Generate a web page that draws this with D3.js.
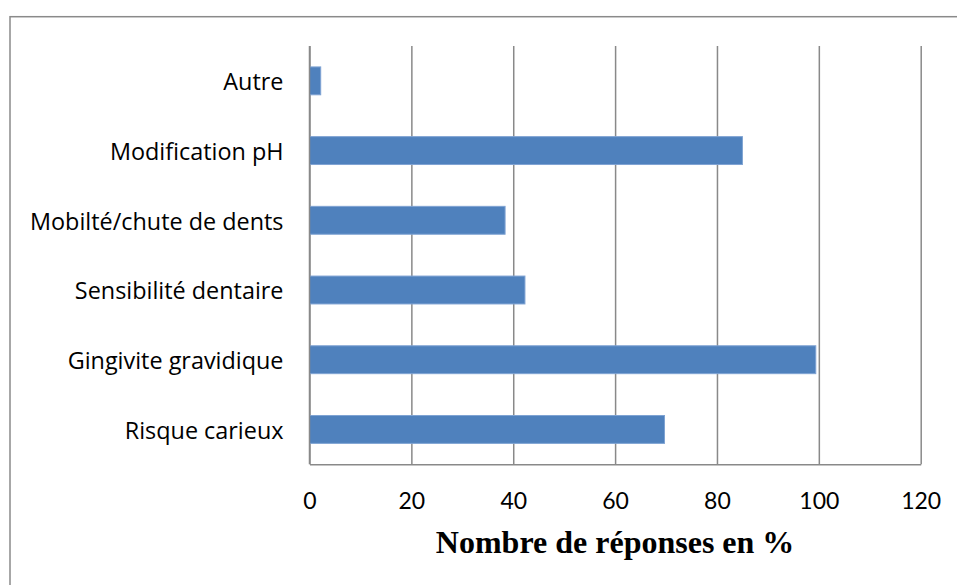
<!DOCTYPE html>
<html>
<head>
<meta charset="utf-8">
<script src="https://cdn.jsdelivr.net/npm/d3@7"></script>
<style>
  html, body { margin: 0; padding: 0; background: #fff; }
  svg { display: block; }
</style>
</head>
<body>
<svg id="chart" width="957" height="585"></svg>
<script>
const categories = ["Autre", "Modification pH", "Mobilté/chute de dents", "Sensibilité dentaire", "Gingivite gravidique", "Risque carieux"];
const values = [2.2, 85.0, 38.4, 42.3, 99.4, 69.7];
const xTicks = [0, 20, 40, 60, 80, 100, 120];
const axisTitle = "Nombre de réponses en %";

const svg = d3.select("#chart");
const margin = { left: 309.5, right: 957 - 920.7, top: 46, bottom: 585 - 464.3 };
const W = 957, H = 585;

// outer frame
svg.append("rect")
  .attr("x", 10).attr("y", 16.7)
  .attr("width", 960).attr("height", 600)
  .attr("fill", "none").attr("stroke", "#8a8a8a").attr("stroke-width", 1.5);

const x = d3.scaleLinear().domain([0, 120]).range([margin.left, W - margin.right]);
const y = d3.scaleBand().domain(categories).range([margin.top, H - margin.bottom]).paddingInner(0.6).paddingOuter(0.3);

// gridlines
svg.append("g")
  .attr("transform", `translate(0,${H - margin.bottom})`)
  .call(d3.axisBottom(x).tickValues(xTicks).tickSize(-(H - margin.bottom - margin.top)).tickFormat(""))
  .call(g => g.select(".domain").remove())
  .call(g => g.selectAll("line").attr("stroke", "#898989").attr("stroke-width", 1.5));

// bars
svg.append("g").selectAll("rect")
  .data(categories)
  .join("rect")
  .attr("x", x(0))
  .attr("y", d => y(d))
  .attr("width", (d, i) => x(values[i]) - x(0))
  .attr("height", y.bandwidth())
  .attr("fill", "#4f81bd")
  .attr("stroke", "#7fa3d3")
  .attr("stroke-width", 1);

// left axis line
svg.append("line")
  .attr("x1", x(0)).attr("x2", x(0))
  .attr("y1", margin.top).attr("y2", H - margin.bottom)
  .attr("stroke", "#898989").attr("stroke-width", 1.5);

// bottom axis line + labels
const xAxis = svg.append("g")
  .attr("transform", `translate(0,${H - margin.bottom})`)
  .call(d3.axisBottom(x).tickValues(xTicks).tickSize(0).tickPadding(28).tickFormat(d3.format("d")));
xAxis.select(".domain").attr("stroke", "#898989").attr("stroke-width", 1.5);
xAxis.selectAll("text")
  .attr("font-family", "Lato, 'Open Sans', sans-serif")
  .attr("font-size", 23)
  .attr("fill", "#000");

// category labels
const yAxis = svg.append("g")
  .attr("transform", `translate(${x(0)},0)`)
  .call(d3.axisLeft(y).tickSize(0).tickPadding(26));
yAxis.select(".domain").remove();
yAxis.selectAll("text")
  .attr("font-family", "'Open Sans', sans-serif")
  .attr("font-size", 23.4)
  .attr("dy", "0.4em")
  .attr("fill", "#000");

// axis title
svg.append("text")
  .attr("x", (x(0) + x(120)) / 2)
  .attr("y", 553)
  .attr("text-anchor", "middle")
  .attr("font-family", "'Liberation Serif', 'Times New Roman', serif")
  .attr("font-weight", "bold")
  .attr("font-size", 32)
  .attr("fill", "#000")
  .text(axisTitle);
</script>
</body>
</html>
